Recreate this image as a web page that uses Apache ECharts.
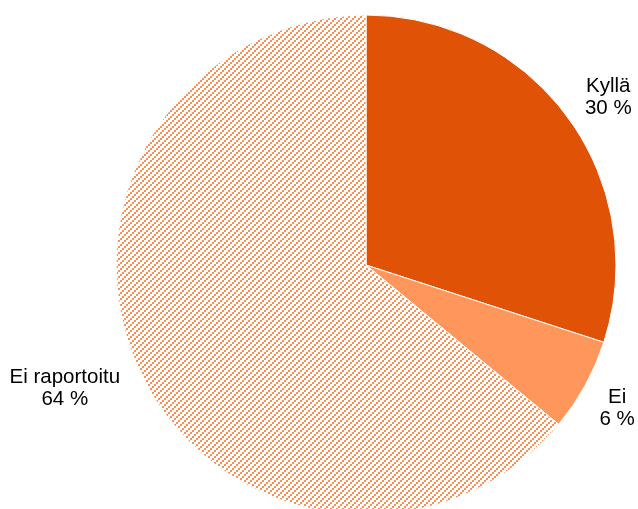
<!DOCTYPE html>
<html>
<head>
<meta charset="utf-8">
<script src="https://cdn.jsdelivr.net/npm/echarts@6/dist/echarts.min.js"></script>
<style>
  html, body { margin: 0; padding: 0; background: #ffffff; }
  #chart { width: 638px; height: 509px; }
</style>
</head>
<body>
<div id="chart"></div>
<script>
// Answer shares, in percent
const categories = ['Kyllä', 'Ei', 'Ei raportoitu'];
const shares = [30, 6, 64];

// Pie geometry
const CENTER = [366, 265];
const RADIUS = 250;

// Offset from each slice's rim midpoint to the centre of its label
const labelNudge = [[40, -21], [32, 23], [-75, 17]];

// Dotted upward-diagonal hatch used for the "not reported" slice
function hatchTile() {
  const c = document.createElement('canvas');
  c.width = 6;
  c.height = 6;
  const g = c.getContext('2d');
  g.fillStyle = '#fc8f53';
  g.fillRect(0, 4, 2, 2);
  g.fillRect(2, 2, 2, 2);
  g.fillRect(4, 0, 2, 2);
  return c;
}

const fills = [
  '#e05206',
  '#ff975d',
  { image: hatchTile(), repeat: 'repeat' }
];

// Mid angle of every slice, clockwise from 12 o'clock
const total = shares.reduce((s, v) => s + v, 0);
const midAngles = [];
shares.reduce((acc, v) => {
  midAngles.push(((acc + v / 2) / total) * 2 * Math.PI);
  return acc + v;
}, 0);

const chart = echarts.init(document.getElementById('chart'), null, { renderer: 'canvas' });

chart.setOption({
  animation: false,
  backgroundColor: '#ffffff',
  series: [{
    type: 'pie',
    center: CENTER,
    radius: RADIUS,
    startAngle: 90,
    clockwise: true,
    avoidLabelOverlap: false,
    itemStyle: { borderColor: '#ffffff', borderWidth: 1 },
    emphasis: { disabled: true },
    label: {
      show: true,
      position: 'outside',
      formatter: '{b}\n{c} %',
      fontFamily: '"Liberation Sans", Arial, sans-serif',
      fontSize: 20.5,
      lineHeight: 22,
      color: '#000000',
      width: 220,
      overflow: 'none'
    },
    labelLine: { show: false },
    labelLayout: function (p) {
      const i = p.dataIndex;
      const a = midAngles[i];
      return {
        x: CENTER[0] + Math.sin(a) * RADIUS + labelNudge[i][0],
        y: CENTER[1] - Math.cos(a) * RADIUS + labelNudge[i][1],
        align: 'center',
        verticalAlign: 'middle',
        width: 220
      };
    },
    data: categories.map((name, i) => ({
      name: name,
      value: shares[i],
      itemStyle: { color: fills[i] }
    }))
  }]
});
</script>
</body>
</html>
